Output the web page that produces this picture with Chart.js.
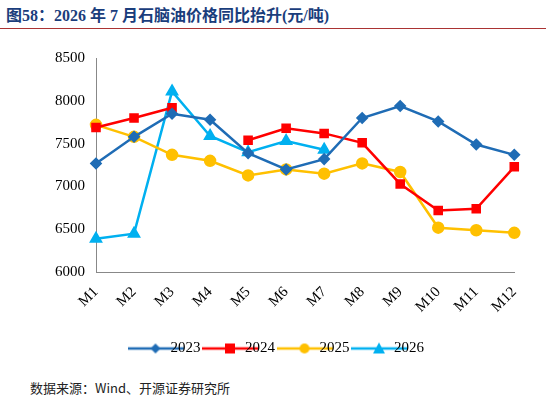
<!DOCTYPE html>
<html><head><meta charset="utf-8">
<script src="https://cdn.jsdelivr.net/npm/chart.js@4"></script>
<style>
body{margin:0;width:546px;height:404px;background:#fff;font-family:"Noto Sans CJK SC","Liberation Serif",serif;}
#title{position:absolute;left:6px;top:2px;font-size:16px;font-weight:bold;color:#1a3d7c;font-family:"Liberation Serif","Noto Sans CJK SC",serif;}
#line{position:absolute;left:0;top:28px;width:546px;height:1px;background:#a33;}
#src{position:absolute;left:30px;top:378px;font-size:13px;color:#222;}
#wrap{position:absolute;left:52px;top:46px;width:478px;height:320px;}
</style></head><body>
<div id="title">图58：2026 年 7 月石脑油价格同比抬升(元/吨)</div>
<div id="line"></div>
<div id="wrap"><canvas id="c"></canvas></div>
<div id="src">数据来源：Wind、开源证券研究所</div>
<script>
const categories=["M1","M2","M3","M4","M5","M6","M7","M8","M9","M10","M11","M12"];
const s2023=[7270,7580,7850,7780,7390,7200,7320,7800,7940,7760,7490,7370];
const s2024=[7690,7800,7920,null,7540,7680,7620,7510,7030,6720,6740,7230];
const s2025=[7720,7580,7370,7300,7130,7200,7150,7270,7170,6520,6490,6460];
const s2026=[6390,6450,8110,7590,7400,7530,7430,null,null,null,null,null];
const yTicks=[6000,6500,7000,7500,8000,8500];
function legIcon(color,style){const c=document.createElement('canvas');c.width=56;c.height=14;const g=c.getContext('2d');
g.strokeStyle=color;g.fillStyle=color;g.lineWidth=2.5;g.beginPath();g.moveTo(0,7);g.lineTo(56,7);g.stroke();
g.beginPath();const x=28,y=7;
if(style==='rectRot'){g.moveTo(x,y-5);g.lineTo(x+5,y);g.lineTo(x,y+5);g.lineTo(x-5,y);}
else if(style==='rect'){g.rect(x-5,y-5,10,10);}
else if(style==='circle'){g.arc(x,y,5,0,Math.PI*2);}
else {g.moveTo(x,y-6);g.lineTo(x+6,y+5);g.lineTo(x-6,y+5);}
g.closePath();g.fill();return c;}
function ds(label,data,color,style,r){return{label,data,borderColor:color,backgroundColor:color,pointStyle:style,pointRadius:r,pointHoverRadius:r,borderWidth:2.5,spanGaps:false,tension:0,icon:legIcon(color,style)};}
new Chart(document.getElementById('c'),{type:'line',
data:{labels:categories,datasets:[ds('2023',s2023,'#1f6cb5','rectRot',4.5),ds('2024',s2024,'#ff0000','rect',5),ds('2025',s2025,'#ffc000','circle',5),ds('2026',s2026,'#00b0f0','triangle',5.5)]},
options:{responsive:true,maintainAspectRatio:false,animation:false,
layout:{padding:{right:10}},
plugins:{legend:{position:'bottom',labels:{usePointStyle:true,font:{family:'Liberation Serif',size:15},color:'#000',padding:22,
generateLabels:(ch)=>ch.data.datasets.map((d,i)=>({text:d.label,fillStyle:d.borderColor,strokeStyle:d.borderColor,lineWidth:0,pointStyle:d.icon,datasetIndex:i}))}},tooltip:{enabled:false}},
scales:{x:{grid:{display:false},border:{color:'#888'},ticks:{maxRotation:45,minRotation:45,color:'#000',font:{family:'Liberation Serif',size:15}}},
y:{min:6000,max:8500,afterBuildTicks:(a)=>{a.ticks=yTicks.map(v=>({value:v}));},grid:{display:false},border:{color:'#888'},ticks:{color:'#000',font:{family:'Liberation Serif',size:15},callback:(v)=>String(v)}}}}});
</script></body></html>
